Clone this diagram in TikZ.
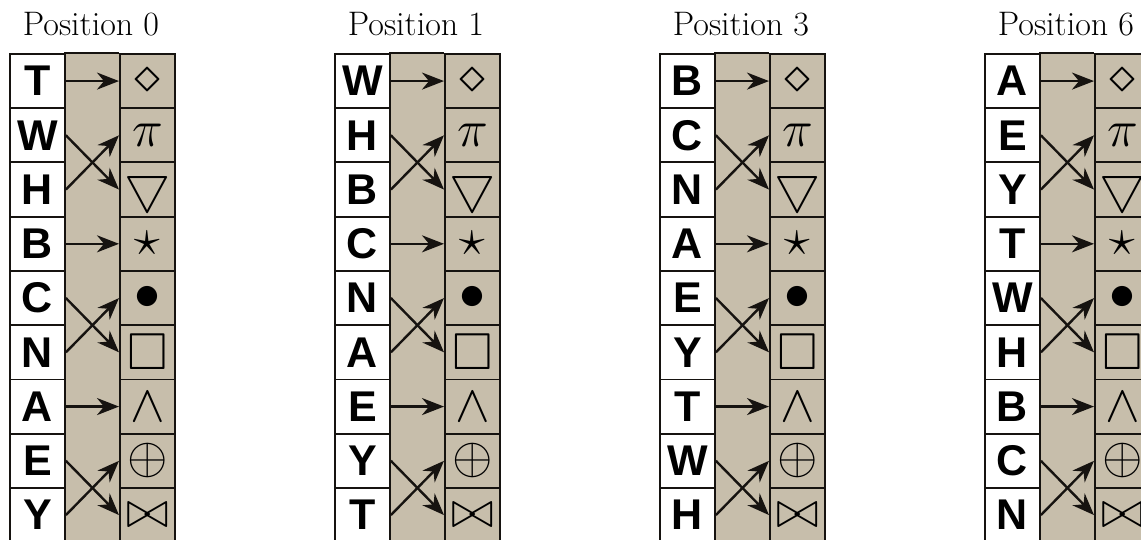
\RequirePackage{fix-cm}
\documentclass[tikz,border=0pt]{standalone}
\usepackage{amssymb}
\usepackage{fontspec}
\newfontfamily\letfont{Liberation Sans}
\usetikzlibrary{arrows.meta}
\definecolor{panelbg}{RGB}{199,190,171}
\definecolor{linec}{RGB}{22,19,16}
\begin{document}
\begin{tikzpicture}[x=1pt,y=-1pt,
  cell/.style={draw=linec, line width=1.9pt, minimum width=55pt, minimum height=54.25pt, inner sep=0pt, anchor=north west},
  letcell/.style={cell, fill=white, font=\letfont\bfseries\fontsize{43}{43}\selectfont},
  symcell/.style={cell, fill=panelbg, font=\fontsize{52}{52}\selectfont},
  arr/.style={line width=2.4pt, draw=linec, -{Stealth[length=22pt,width=17pt,inset=7pt]}},
  ptitle/.style={font=\fontsize{34}{34}\selectfont, anchor=base, inner sep=0pt}]
\useasboundingbox (0,0) rectangle (1141,540);
\clip (0,0) rectangle (1141,540);
\foreach \p/\L/\letters in {0/9/{T,W,H,B,C,N,A,E,Y},1/334/{W,H,B,C,N,A,E,Y,T},3/659/{B,C,N,A,E,Y,T,W,H},6/984/{A,E,Y,T,W,H,B,C,N}}{
  \node[ptitle] (t\p) at (\L+82,36) {Position \p};
  \fill[panelbg] (\L+55,53) rectangle (\L+110,560);
  \draw[linec, line width=1.9pt] (\L+55,53) -- (\L+110,53);
  \foreach \ltr [count=\i] in \letters {
    \node[letcell] (l\p-\i) at (\L,{53+(\i-1)*54.25}) {\ltr};
  }
  \foreach \s [count=\i] in {\diamond,\pi,\bigtriangledown,\star,\bullet,\square,\wedge,\oplus,\bowtie} {
    \node[symcell] (s\p-\i) at (\L+110,{53+(\i-1)*54.25}) {$\s$};
  }
  \foreach \a in {1,4,7} \draw[arr] (l\p-\a.east) -- (s\p-\a.west);
  \foreach \a/\b in {2/3,5/6,8/9} {
    \draw[arr] (l\p-\a.east) -- (s\p-\b.west);
    \draw[arr] (l\p-\b.east) -- (s\p-\a.west);
  }
}
\end{tikzpicture}
\end{document}
